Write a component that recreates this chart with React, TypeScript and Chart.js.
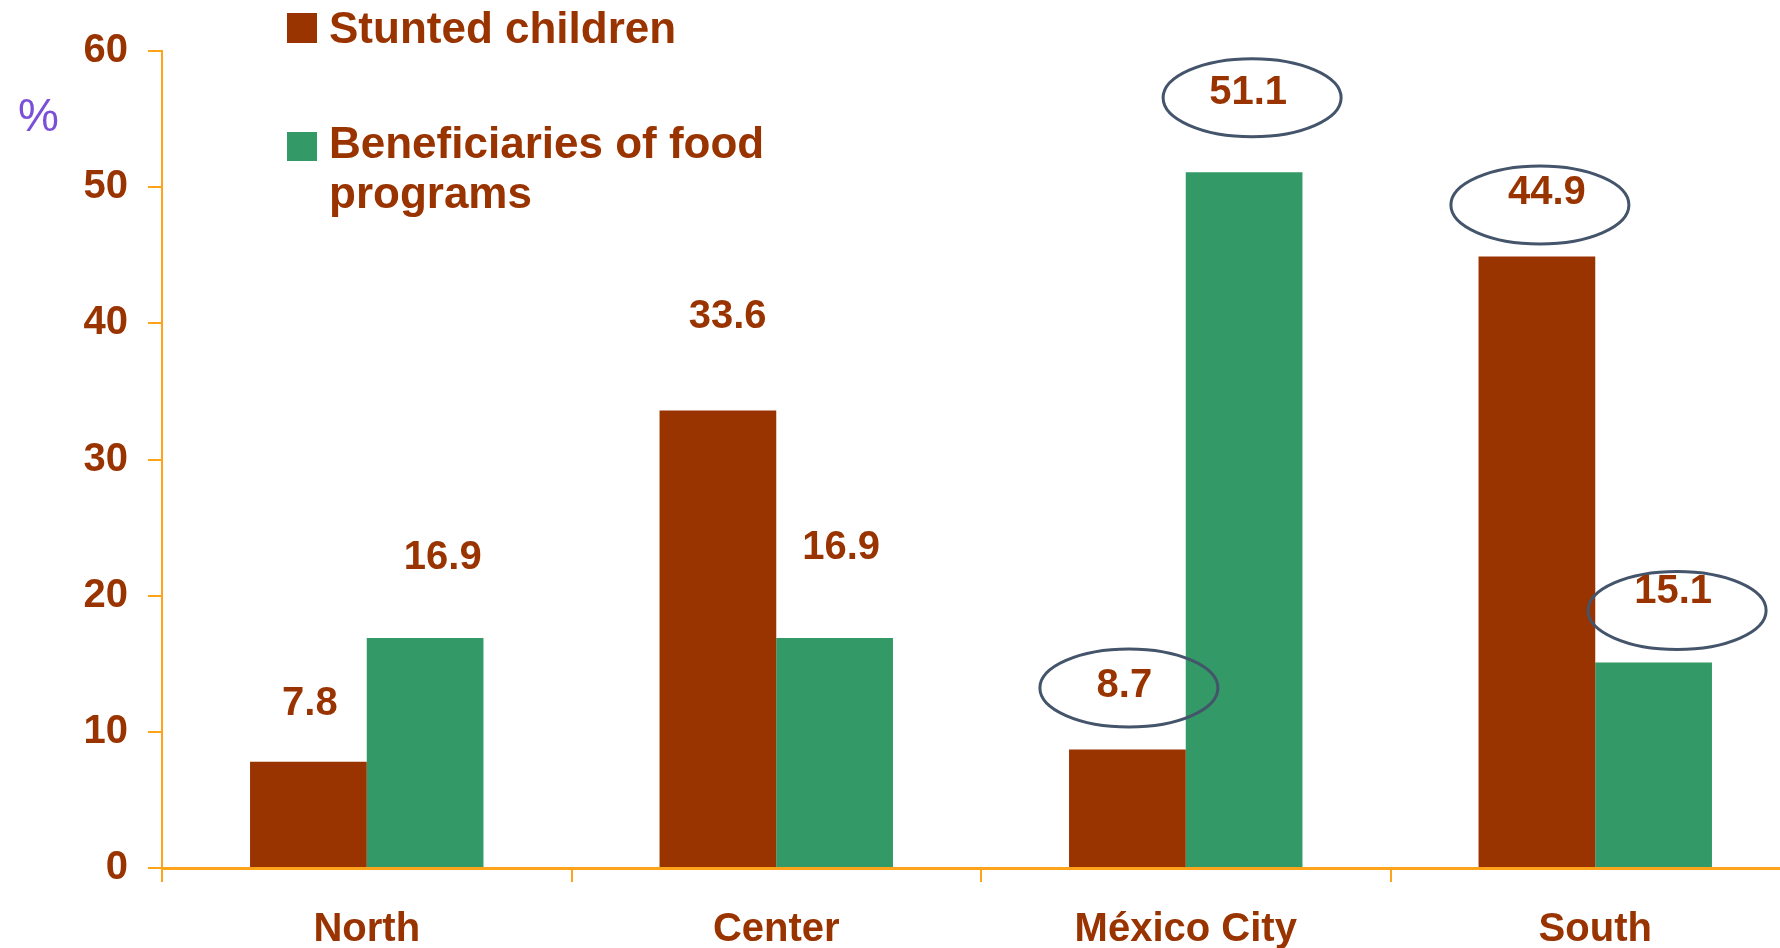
import React, { useEffect, useRef } from "react";
import { Chart, registerables } from "chart.js";

Chart.register(...registerables);

// ---- data ----
const categories = ["North", "Center", "México City", "South"];
const stuntedChildren = [7.8, 33.6, 8.7, 44.9];
const foodBeneficiaries = [16.9, 16.9, 51.1, 15.1];
const seriesNames = ["Stunted children", "Beneficiaries of food", "programs"];
const yMax = 60;
const yStep = 10;

// value-label placement hints (px offset from the bar top) and which are circled
const stuntedLabelShift = [[1.5, 61], [9.7, 97], [-3, 67], [10, 66.6]];
const foodLabelShift = [[17.6, 83], [6.5, 93], [4, 82], [19.5, 73.4]];
const stuntedCircle = [null, null, [4.5, 5.5], [-7, 15]];
const foodCircle = [null, null, [4, 7.5], [4, 21.5]];

const RED = "#993300";
const GREEN = "#339966";
const AXIS = "#FFA31A";
const TEXT = "#993300";
const FONT = "'Liberation Sans', Arial, sans-serif";

export default function App() {
  const canvasRef = useRef<HTMLCanvasElement | null>(null);

  useEffect(() => {
    document.body.style.margin = "0";
    document.body.style.overflow = "hidden";
    const canvas = canvasRef.current;
    if (!canvas) return;

    const annotations = {
      id: "annotations",
      afterDatasetsDraw(chart: any) {
        const ctx = chart.ctx as CanvasRenderingContext2D;
        ctx.save();
        const sets = [
          { vals: stuntedChildren, shift: stuntedLabelShift, circ: stuntedCircle },
          { vals: foodBeneficiaries, shift: foodLabelShift, circ: foodCircle },
        ];
        sets.forEach((s, di) => {
          const meta = chart.getDatasetMeta(di);
          meta.data.forEach((bar: any, i: number) => {
            const [dx, dy] = s.shift[i];
            const cx = bar.x + dx;
            const cy = bar.y - dy;
            const c = s.circ[i];
            if (c) {
              ctx.beginPath();
              ctx.ellipse(cx + c[0], cy + c[1], 89, 39, 0, 0, Math.PI * 2);
              ctx.strokeStyle = "#44546A";
              ctx.lineWidth = 3;
              ctx.stroke();
            }
            ctx.fillStyle = TEXT;
            ctx.font = `bold 40px ${FONT}`;
            ctx.textAlign = "center";
            ctx.textBaseline = "alphabetic";
            ctx.fillText(s.vals[i].toFixed(1), cx, cy + 14.3);
          });
        });

        // legend
        ctx.fillStyle = RED;
        ctx.fillRect(287, 13, 30, 30);
        ctx.fillStyle = GREEN;
        ctx.fillRect(287, 132, 30, 29);
        ctx.fillStyle = TEXT;
        ctx.font = `bold 44px ${FONT}`;
        ctx.textAlign = "left";
        ctx.textBaseline = "alphabetic";
        ctx.fillText(seriesNames[0], 329, 43);
        ctx.fillText(seriesNames[1], 329, 158);
        ctx.fillText(seriesNames[2], 329, 208);

        // unit
        ctx.fillStyle = "#7A50D8";
        ctx.font = `46px ${FONT}`;
        ctx.fillText("%", 18, 131);
        ctx.restore();
      },
    };

    const chart = new Chart(canvas, {
      type: "bar",
      data: {
        labels: categories,
        datasets: [
          {
            label: "Stunted children",
            data: stuntedChildren,
            backgroundColor: RED,
            borderWidth: 0,
            barPercentage: 1,
            categoryPercentage: 0.57,
          },
          {
            label: "Beneficiaries of food programs",
            data: foodBeneficiaries,
            backgroundColor: GREEN,
            borderWidth: 0,
            barPercentage: 1,
            categoryPercentage: 0.57,
          },
        ],
      },
      options: {
        responsive: false,
        animation: false,
        devicePixelRatio: 1,
        layout: { padding: { top: 51, left: 0, right: 0, bottom: 0 } },
        plugins: {
          legend: { display: false },
          tooltip: { enabled: false },
          title: { display: false },
        },
        scales: {
          x: {
            type: "category",
            offset: true,
            afterFit(scale: any) {
              scale.height = 80;
            },
            grid: {
              offset: true,
              drawOnChartArea: false,
              drawTicks: true,
              tickLength: 14,
              color: AXIS,
              lineWidth: 2,
            },
            border: { display: true, color: AXIS, width: 3 },
            ticks: {
              color: TEXT,
              font: { family: FONT, size: 40, weight: "bold" },
              padding: 24,
              maxRotation: 0,
              autoSkip: false,
            },
          },
          y: {
            min: 0,
            max: yMax,
            afterFit(scale: any) {
              scale.width = 162;
            },
            grid: {
              drawOnChartArea: false,
              drawTicks: true,
              tickLength: 14,
              color: AXIS,
              lineWidth: 2,
            },
            border: { display: true, color: AXIS, width: 2 },
            ticks: {
              stepSize: yStep,
              color: TEXT,
              font: { family: FONT, size: 40, weight: "bold" },
              padding: 20,
            },
          },
        },
      },
      plugins: [annotations],
    });

    return () => chart.destroy();
  }, []);

  return (
    <div style={{ width: 1780, height: 948, overflow: "hidden", position: "relative", background: "#fff" }}>
      <canvas ref={canvasRef} width={1800} height={948} style={{ display: "block" }} />
    </div>
  );
}
